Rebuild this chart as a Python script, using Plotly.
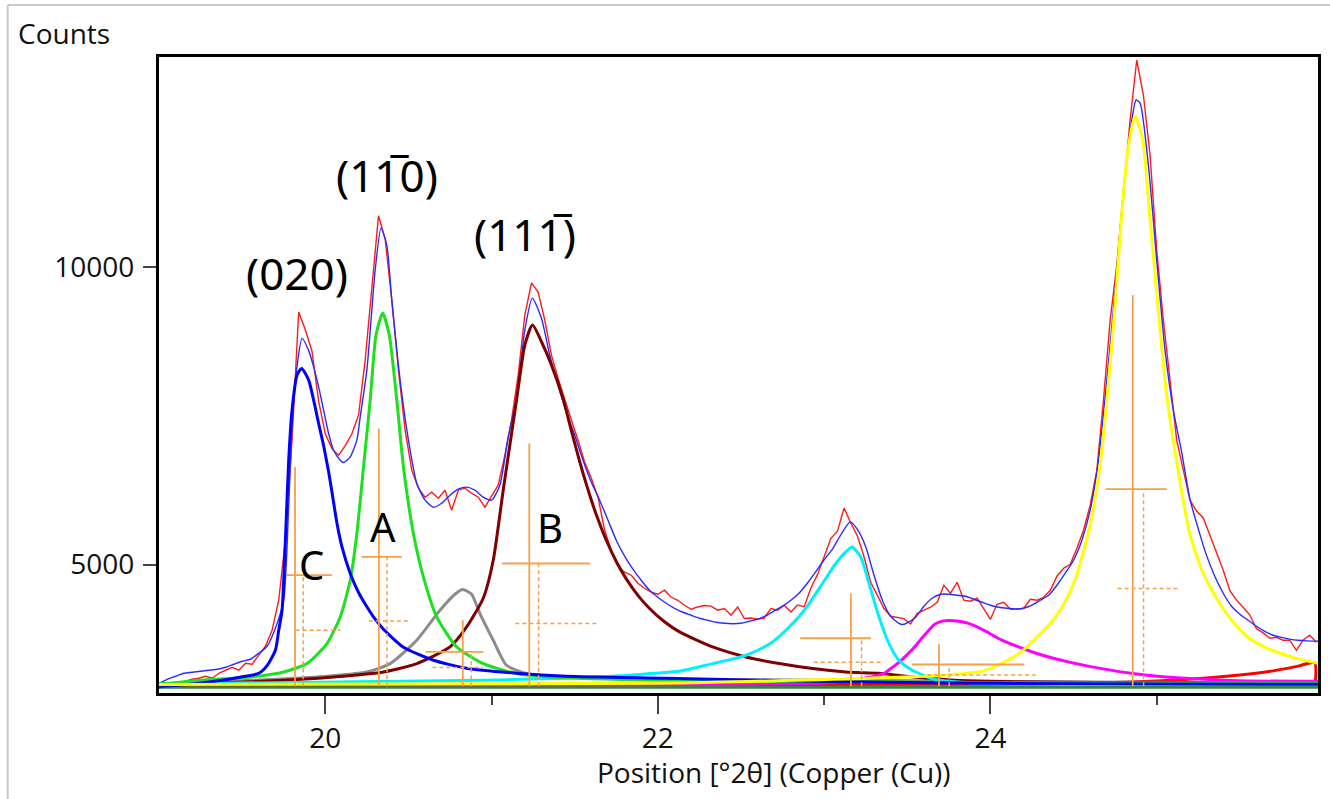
import plotly.graph_objects as go

# ---------------- measured pattern (step scan, Cu K-alpha) ----------------
SCAN_START = 19.0
SCAN_STEP = 0.04
observed_counts = [
    2918, 2951, 2985, 3002, 3035, 3069, 3086, 3120, 3086, 3170,
    3221, 3271, 3221, 3338, 3322, 3473, 3625, 3894, 4399, 5409,
    7100, 9250, 8950, 8590, 7750, 7200, 6950, 6840, 7000, 7200,
    7513, 8439, 9702, 10870, 10480, 9449, 8271, 7261, 6588, 6285,
    6133, 6217, 6116, 6251, 5914, 6251, 6285, 6200, 6133, 5965,
    6150, 6335, 6840, 7429, 8187, 9197, 9740, 9584, 9113, 8524,
    8137, 7766, 7429, 7093, 6722, 6453, 6133, 5577, 5241, 4971,
    4870, 4820, 4685, 4601, 4534, 4500, 4567, 4449, 4399, 4315,
    4247, 4286, 4310, 4300, 4231, 4259, 4146, 4286, 4091, 4100,
    4080, 4100, 4259, 4230, 4315, 4200, 4320, 4290, 4600, 4830,
    5150, 5438, 5560, 5950, 5700, 5480, 5130, 4700, 4480, 4260,
    4130, 4110, 4090, 4000, 4180, 4231, 4281, 4365, 4651, 4517,
    4702, 4399, 4382, 4433, 4247, 4079, 4332, 4365, 4247, 4247,
    4264, 4416, 4399, 4449, 4567, 4803, 4938, 5005, 5274, 5577,
    5998, 6588, 7766, 9113, 10039, 11302, 12480, 13490, 12901, 11891,
    10291, 9113, 8103, 7093, 6588, 6083, 5900, 5783, 5493, 5207,
    4904, 4560, 4400, 4280, 4150, 3920, 3850, 3760, 3776, 3726,
    3726, 3557, 3726, 3810, 3692,
]
scan_pos = [round(SCAN_START + i * SCAN_STEP, 2) for i in range(len(observed_counts))]

# ---------------- total calculated profile ----------------
fit_pos = [
    19.00, 19.05, 19.10, 19.15, 19.20, 19.25, 19.30, 19.35, 19.40, 19.45,
    19.50, 19.55, 19.60, 19.65, 19.70, 19.75, 19.78, 19.80, 19.83, 19.86,
    19.90, 19.93, 19.96, 19.99, 20.02, 20.05, 20.09, 20.11, 20.15, 20.19,
    20.21, 20.25, 20.30, 20.335, 20.37, 20.40, 20.45, 20.50, 20.55, 20.60,
    20.65, 20.70, 20.75, 20.80, 20.85, 20.90, 20.95, 21.00, 21.05, 21.10,
    21.15, 21.20, 21.245, 21.30, 21.35, 21.40, 21.45, 21.50, 21.55, 21.60,
    21.65, 21.70, 21.75, 21.80, 21.85, 21.90, 21.95, 22.00, 22.05, 22.10,
    22.15, 22.20, 22.25, 22.30, 22.35, 22.40, 22.45, 22.50, 22.55, 22.60,
    22.65, 22.70, 22.75, 22.80, 22.85, 22.90, 22.95, 23.00, 23.05, 23.10,
    23.157, 23.20, 23.25, 23.30, 23.35, 23.40, 23.45, 23.47, 23.50, 23.55,
    23.60, 23.65, 23.70, 23.75, 23.80, 23.85, 23.90, 23.95, 24.00, 24.05,
    24.10, 24.15, 24.20, 24.25, 24.30, 24.35, 24.40, 24.45, 24.50, 24.55,
    24.60, 24.65, 24.70, 24.75, 24.80, 24.85, 24.876, 24.90, 24.95, 25.00,
    25.05, 25.10, 25.15, 25.20, 25.25, 25.30, 25.35, 25.40, 25.45, 25.50,
    25.55, 25.60, 25.65, 25.70, 25.75, 25.80, 25.85, 25.90, 25.97,
]
fit_counts = [
    3002, 3069, 3120, 3170, 3187, 3204, 3221, 3237, 3271, 3322,
    3372, 3406, 3507, 3625, 3928, 4399, 6000, 7300, 8326, 8805,
    8600, 8327, 7990, 7598, 7205, 6924, 6756, 6717, 6811, 7093,
    7485, 8271, 9955, 10662, 10376, 9449, 8103, 7093, 6369, 6083,
    5965, 6032, 6167, 6268, 6302, 6251, 6133, 6083, 6335, 7143,
    7800, 8944, 9483, 9146, 8524, 8018, 7564, 7177, 6756, 6386,
    6083, 5746, 5409, 5140, 4921, 4736, 4567, 4449, 4348, 4264,
    4197, 4146, 4096, 4062, 4028, 4011, 4003, 4011, 4045, 4079,
    4140, 4220, 4300, 4399, 4520, 4690, 4880, 5080, 5260, 5500,
    5717, 5590, 5300, 4820, 4399, 4130, 4010, 3990, 4020, 4113,
    4298, 4433, 4500, 4500, 4483, 4466, 4416, 4365, 4315, 4281,
    4264, 4254, 4264, 4315, 4399, 4483, 4651, 4854, 5072, 5409,
    5914, 6756, 8103, 9618, 11302, 12480, 12817, 12766, 11723, 10123,
    8608, 7598, 6891, 6100, 5600, 5150, 4800, 4517, 4298, 4163,
    4062, 3961, 3877, 3810, 3775, 3745, 3725, 3715, 3710,
]

# ---------------- individual fitted peaks ----------------
peak_c_pos = [19.00, 19.20, 19.40, 19.50, 19.60, 19.65, 19.70, 19.72, 19.74, 19.76,
              19.78, 19.80, 19.83, 19.858, 19.90, 19.93, 19.96, 19.99, 20.02, 20.04,
              20.07, 20.10, 20.15, 20.20, 20.25, 20.30, 20.35, 20.47, 20.65, 20.85,
              21.15, 21.45, 22.05, 23.00, 24.00, 25.00, 25.97]
peak_c_counts = [2951, 2990, 3060, 3110, 3170, 3300, 3557, 3894, 4231, 5409,
                 6756, 7598, 8187, 8300, 8103, 7766, 7374, 7000, 6560, 6220,
                 5700, 5300, 4850, 4530, 4290, 4080, 3910, 3608, 3389, 3254,
                 3170, 3120, 3086, 3030, 3000, 2990, 2985]

peak_a_pos = [19.00, 19.25, 19.55, 19.75, 19.89, 20.01, 20.09, 20.15, 20.19, 20.23,
              20.27, 20.305, 20.345, 20.385, 20.43, 20.47, 20.53, 20.59, 20.67, 20.79,
              20.95, 21.15, 21.35, 22.00, 23.00, 24.00, 25.97]
peak_a_counts = [2985, 3052, 3108, 3192, 3333, 3670, 4118, 4736, 5522, 6643,
                 7766, 8860, 9231, 8860, 7766, 6643, 5522, 4791, 4118, 3613,
                 3333, 3165, 3108, 3052, 3030, 3010, 3000]

peak_g_pos = [19.00, 19.95, 20.25, 20.39, 20.55, 20.69, 20.78, 20.827, 20.88, 20.93,
              21.01, 21.09, 21.21, 21.35, 22.00, 25.97]
peak_g_counts = [2985, 3108, 3192, 3333, 3726, 4231, 4500, 4579, 4500, 4175,
                 3726, 3305, 3165, 3120, 3070, 3000]

peak_b_pos = [19.00, 19.35, 19.75, 20.05, 20.35, 20.55, 20.75, 20.85, 20.95, 21.01,
              21.07, 21.15, 21.20, 21.246, 21.305, 21.36, 21.43, 21.47, 21.51, 21.55,
              21.59, 21.63, 21.69, 21.75, 21.81, 21.88, 21.95, 22.04, 22.13, 22.33,
              22.53, 22.73, 22.93, 23.13, 23.33, 23.46, 23.86, 25.00, 25.97]
peak_b_counts = [2990, 3007, 3052, 3108, 3192, 3333, 3613, 3950, 4433, 5072,
                 6251, 7766, 8692, 9029, 8720, 8360, 7791, 7360, 6936, 6536,
                 6169, 5837, 5408, 5052, 4759, 4482, 4261, 4037, 3866, 3613,
                 3444, 3333, 3249, 3192, 3170, 3130, 3044, 3010, 3000]

peak_cy_pos = [19.00, 20.95, 21.35, 21.65, 21.95, 22.13, 22.33, 22.43, 22.53, 22.61,
               22.69, 22.75, 22.81, 22.86, 22.91, 22.99, 23.07, 23.13, 23.167, 23.22,
               23.27, 23.33, 23.39, 23.45, 23.53, 23.66, 23.86, 24.07, 25.97]
peak_cy_counts = [2990, 3052, 3081, 3108, 3165, 3203, 3333, 3395, 3473, 3570,
                  3697, 3840, 4007, 4160, 4343, 4680, 5017, 5212, 5296, 5128,
                  4680, 4118, 3670, 3389, 3221, 3072, 3015, 2998, 2990]

peak_m_pos = [19.00, 23.00, 23.25, 23.36, 23.41, 23.46, 23.53, 23.60, 23.66, 23.70,
              23.742, 23.80, 23.864, 23.97, 24.067, 24.27, 24.474, 24.677, 24.881, 25.145,
              25.491, 25.97]
peak_m_counts = [2990, 3010, 3090, 3170, 3270, 3380, 3570, 3800, 3985, 4040,
                 4059, 4050, 4013, 3880, 3729, 3512, 3357, 3244, 3158, 3089,
                 3044, 3035]

peak_y_pos = [19.00, 22.00, 23.66, 23.965, 24.17, 24.37, 24.45, 24.515, 24.596, 24.657,
              24.70, 24.75, 24.787, 24.828, 24.87, 24.916, 24.957, 25.01, 25.06, 25.125,
              25.20, 25.28, 25.367, 25.467, 25.547, 25.647, 25.747, 25.847, 25.97]
peak_y_counts = [2980, 3000, 3130, 3215, 3500, 4040, 4380, 4790, 5620, 6620,
                 7760, 9380, 10800, 12000, 12547, 12146, 10917, 9250, 7850, 6650,
                 5500, 4850, 4399, 4007, 3781, 3613, 3502, 3417, 3340]

# tail of the next reflection above the scan end
peak_r_pos = [19.00, 24.00, 24.60, 25.00, 25.30, 25.50, 25.70, 25.85, 25.95, 25.955]
peak_r_counts = [2975, 2985, 3000, 3040, 3090, 3140, 3210, 3290, 3350, 3040]

# flat background
bg_pos = [19.00, 25.97]
bg_counts = [2935, 2935]

# ---------------- peak markers ----------------
marker_pos = [19.818, 20.322, 20.827, 21.227, 23.161, 23.691, 24.856]
marker_top = [6643, 7290, 4062, 7037, 4517, 3660, 9534]
marker_level = [4820, 5128, 3529, 5017, 3759, 3318, 6268]
marker_left = [19.768, 20.218, 20.603, 21.064, 22.856, 23.529, 24.692]
marker_right = [20.040, 20.460, 20.951, 21.593, 23.282, 24.205, 25.060]
calc_pos = [19.867, 20.371, 20.878, 21.283, 23.225, 23.752, 24.921]
calc_level = [3894, 4051, 3266, 4007, 3355, 3141, 4596]
calc_left = [19.822, 20.262, 20.644, 21.143, 22.937, 23.620, 24.765]
calc_right = [20.092, 20.513, 20.947, 21.647, 23.351, 24.271, 25.125]
MARKER_BASE = 2950

# ---------------- labels ----------------
reflection_labels = ["(020)", "(11\u03050)", "(111\u0305)"]
reflection_xy = [(19.83, 9900), (20.37, 11560), (21.2, 10560)]
peak_letters = ["C", "A", "B"]
peak_letter_xy = [(19.92, 4995), (20.35, 5645), (21.35, 5630)]

X_RANGE = [19.0, 25.97]
Y_RANGE = [2838, 13541]

ORANGE = "#F5A04A"

fig = go.Figure()

fig.add_trace(go.Scatter(x=scan_pos, y=observed_counts, mode="lines",
                         line=dict(color="#FF1A1A", width=1.4)))
fig.add_trace(go.Scatter(x=fit_pos, y=fit_counts, mode="lines",
                         line=dict(color="#2B2BFF", width=1.4, shape="spline", smoothing=0.6)))

components = [
    (bg_pos, bg_counts, "#2E8B3A"),
    (peak_r_pos, peak_r_counts, "#FF0000"),
    (peak_g_pos, peak_g_counts, "#8C8C8C"),
    (peak_b_pos, peak_b_counts, "#800000"),
    (peak_m_pos, peak_m_counts, "#FF00FF"),
    (peak_cy_pos, peak_cy_counts, "#00F0FF"),
    (peak_a_pos, peak_a_counts, "#1EE01E"),
    (peak_c_pos, peak_c_counts, "#0000FF"),
    (peak_y_pos, peak_y_counts, "#FFFF00"),
]
for px_, py_, col in components:
    fig.add_trace(go.Scatter(x=px_, y=py_, mode="lines",
                             line=dict(color=col, width=3, shape="spline", smoothing=0.6)))

# solid markers: vertical at fitted position, horizontal at fitted height
sx, sy, dx, dy = [], [], [], []
for i in range(len(marker_pos)):
    sx += [marker_pos[i], marker_pos[i], None, marker_left[i], marker_right[i], None]
    sy += [MARKER_BASE, marker_top[i], None, marker_level[i], marker_level[i], None]
    dx += [calc_pos[i], calc_pos[i], None, calc_left[i], calc_right[i], None]
    dy += [MARKER_BASE, marker_level[i], None, calc_level[i], calc_level[i], None]
fig.add_trace(go.Scatter(x=sx, y=sy, mode="lines", connectgaps=False,
                         line=dict(color=ORANGE, width=1.8)))
fig.add_trace(go.Scatter(x=dx, y=dy, mode="lines", connectgaps=False,
                         line=dict(color=ORANGE, width=1.5, dash="4px,3px")))

annotations = []
for txt, (ax_, ay_) in zip(reflection_labels, reflection_xy):
    annotations.append(dict(x=ax_, y=ay_, xref="x", yref="y", text=txt, showarrow=False,
                            xanchor="center", yanchor="middle",
                            font=dict(family="Noto Sans", size=44, color="#000000")))
for txt, (ax_, ay_) in zip(peak_letters, peak_letter_xy):
    annotations.append(dict(x=ax_, y=ay_, xref="x", yref="y", text=txt, showarrow=False,
                            xanchor="center", yanchor="middle",
                            font=dict(family="Noto Sans", size=40, color="#000000")))

# plot box in pixels (for placing free text in paper units)
PL, PR, PT, PB = 158.7, 1320.7, 57.0, 692.7
def paper_x(px):
    return (px - PL) / (PR - PL)
def paper_y(py):
    return (PB - py) / (PB - PT)

annotations.append(dict(x=paper_x(15), y=paper_y(33), xref="paper", yref="paper",
                        text="Counts", showarrow=False, xanchor="left", yanchor="middle",
                        font=dict(family="Open Sans", size=28, color="#111111")))
annotations.append(dict(x=paper_x(775), y=paper_y(772), xref="paper", yref="paper",
                        text="Position [°2θ] (Copper (Cu))", showarrow=False,
                        xanchor="center", yanchor="middle",
                        font=dict(family="Open Sans", size=28, color="#111111")))

shapes = [
    dict(type="line", xref="paper", yref="paper", x0=paper_x(7), x1=paper_x(1335),
         y0=paper_y(5), y1=paper_y(5), line=dict(color="#C8C8C8", width=2)),
    dict(type="line", xref="paper", yref="paper", x0=paper_x(7), x1=paper_x(7),
         y0=paper_y(5), y1=paper_y(805), line=dict(color="#C8C8C8", width=2)),
]

tick_font = dict(family="Open Sans", size=28, color="#111111")
fig.update_layout(
    width=1330, height=799,
    margin=dict(l=PL, r=1330 - PR, t=PT, b=799 - PB),
    paper_bgcolor="white", plot_bgcolor="white",
    showlegend=False,
    annotations=annotations,
    shapes=shapes,
    xaxis=dict(range=X_RANGE, tickmode="linear", tick0=20, dtick=2,
               ticks="outside", ticklen=18, tickwidth=1.5, tickcolor="#444444",
               tickfont=tick_font, showgrid=False, zeroline=False,
               showline=True, mirror=True, linecolor="black", linewidth=3,
               minor=dict(tickmode="array", tickvals=[21, 23, 25], ticks="outside",
                          ticklen=9, tickwidth=1.5, tickcolor="#444444", showgrid=False)),
    yaxis=dict(range=Y_RANGE, tickmode="array", tickvals=[5000, 10000],
               ticktext=["5000", "10000"], ticks="outside", ticklen=13,
               tickwidth=1.5, tickcolor="#444444", tickfont=tick_font,
               ticklabelstandoff=3, showgrid=False, zeroline=False,
               showline=True, mirror=True, linecolor="black", linewidth=3),
)

fig.write_html("out.html")
